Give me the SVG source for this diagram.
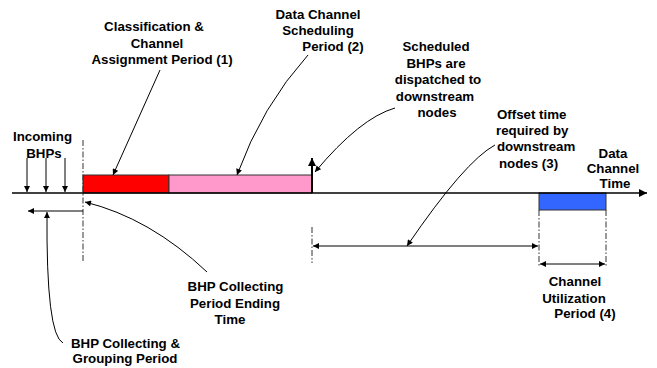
<svg xmlns="http://www.w3.org/2000/svg" width="657" height="368" viewBox="0 0 657 368">
<style>
.t{font-family:"Liberation Sans",Arial,sans-serif;font-weight:bold;font-size:13.3px;text-anchor:middle;fill:#000}
.l{font-family:"Liberation Sans",Arial,sans-serif;font-weight:bold;font-size:13.3px;text-anchor:start;fill:#000}
.ln{stroke:#000;stroke-width:1;fill:none}
.dd{stroke:#333;stroke-width:1;fill:none;stroke-dasharray:6,2,1.5,2}
</style>
<defs>
<marker id="ah" viewBox="0 0 10 10" refX="10" refY="5" markerWidth="8" markerHeight="6" markerUnits="userSpaceOnUse" orient="auto-start-reverse"><path d="M0,0 L10,5 L0,10 z" fill="#000"/></marker>
<marker id="ahB" viewBox="0 0 10 10" refX="10" refY="5" markerWidth="14" markerHeight="8" markerUnits="userSpaceOnUse" orient="auto-start-reverse"><path d="M0,0 L10,5 L0,10 z" fill="#000"/></marker>
<marker id="ahU" viewBox="0 0 10 10" refX="10" refY="5" markerWidth="12" markerHeight="8" markerUnits="userSpaceOnUse" orient="auto-start-reverse"><path d="M0,0 L10,5 L0,10 z" fill="#000"/></marker>
</defs>

<g id="periods">
<rect id="classification-period" x="83" y="175" width="86" height="18" fill="#FF0000" stroke="#333" stroke-width="1"/>
<rect id="scheduling-period" x="169" y="175" width="142.5" height="18" fill="#FF99CC" stroke="#333" stroke-width="1"/>
<rect id="utilization-period" x="539" y="193" width="67" height="17" fill="#3366FF" stroke="#333" stroke-width="1"/>
</g>

<g id="connectors">
<line id="time-axis" x1="12" y1="193" x2="647" y2="193" stroke="#000" stroke-width="1.6" marker-end="url(#ahB)"/>
<line class="ln" x1="27" y1="158" x2="27" y2="192" marker-end="url(#ah)"/>
<line class="ln" x1="46" y1="158" x2="46" y2="192" marker-end="url(#ah)"/>
<line class="ln" x1="65" y1="158" x2="65" y2="192" marker-end="url(#ah)"/>
<line class="dd" x1="83" y1="140" x2="83" y2="261"/>
<line class="ln" x1="83" y1="211" x2="28" y2="211" marker-end="url(#ah)"/>
<line id="dispatch" x1="312" y1="193" x2="312" y2="158" stroke="#000" stroke-width="2" marker-end="url(#ahU)"/>
<line class="dd" x1="312" y1="227" x2="312" y2="263"/>
<line class="dd" x1="539" y1="210" x2="539" y2="267"/>
<line class="dd" x1="606" y1="210" x2="606" y2="267"/>
<line class="ln" x1="313" y1="246" x2="538" y2="246" marker-start="url(#ah)" marker-end="url(#ah)"/>
<line class="ln" x1="540" y1="264" x2="605" y2="264" stroke-width="1.5" marker-start="url(#ah)" marker-end="url(#ah)"/>
<path class="ln" d="M160,70 L113,175" marker-end="url(#ah)"/>
<path class="ln" d="M308,55 Q262,106 237,175" marker-end="url(#ah)"/>
<path class="ln" d="M395,108 Q360,118 315,172" marker-end="url(#ah)"/>
<path class="ln" d="M495,145 Q465,161 407,246" marker-end="url(#ah)"/>
<path class="ln" d="M207,272 Q150,218 85,202" marker-end="url(#ah)"/>
<path class="ln" d="M63,343 Q46,335 47,212" marker-end="url(#ah)"/>
</g>

<g id="label-incoming">
<text class="t" x="42.5" y="141">Incoming</text>
<text class="t" x="44" y="157.5">BHPs</text>
</g>
<g id="label-classification">
<text class="t" x="154" y="31">Classification &amp;</text>
<text class="t" x="157" y="47.5">Channel</text>
<text class="t" x="162" y="64">Assignment Period (1)</text>
</g>
<g id="label-scheduling">
<text class="t" x="318" y="18.5">Data Channel</text>
<text class="t" x="318" y="34.5">Scheduling</text>
<text class="t" x="333" y="51">Period (2)</text>
</g>
<g id="label-dispatched">
<text class="t" x="436" y="51">Scheduled</text>
<text class="t" x="436" y="67.5">BHPs are</text>
<text class="t" x="438" y="84">dispatched to</text>
<text class="t" x="435" y="100.5">downstream</text>
<text class="t" x="437" y="117">nodes</text>
</g>
<g id="label-offset">
<text class="l" x="497" y="118.5">Offset time</text>
<text class="l" x="496" y="134.5">required by</text>
<text class="l" x="497" y="151">downstream</text>
<text class="l" x="499" y="167.5">nodes (3)</text>
</g>
<g id="label-data-channel-time">
<text class="t" x="613" y="157.5">Data</text>
<text class="t" x="613" y="173">Channel</text>
<text class="t" x="615" y="188">Time</text>
</g>
<g id="label-utilization">
<text class="t" x="575" y="286">Channel</text>
<text class="t" x="574" y="302.5">Utilization</text>
<text class="t" x="585" y="318">Period (4)</text>
</g>
<g id="label-ending-time">
<text class="t" x="235.5" y="291">BHP Collecting</text>
<text class="t" x="235" y="307.5">Period Ending</text>
<text class="t" x="230" y="323.5">Time</text>
</g>
<g id="label-grouping">
<text class="t" x="125.5" y="347.5">BHP Collecting &amp;</text>
<text class="t" x="125" y="362.5">Grouping Period</text>
</g>
</svg>
